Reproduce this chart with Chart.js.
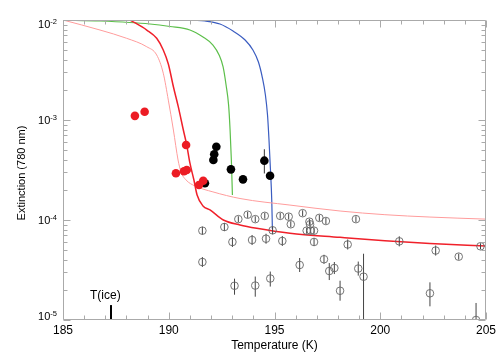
<!DOCTYPE html>
<html>
<head>
<meta charset="utf-8">
<script src="https://cdn.jsdelivr.net/npm/chart.js@4/dist/chart.umd.min.js"></script>
<style>
  html, body { margin: 0; padding: 0; background: #fff; }
  #wrap { width: 504px; height: 360px; }
</style>
</head>
<body>
<div id="wrap"><canvas id="chart" width="504" height="360"></canvas></div>
<script>
// axis ranges
var xMin = 185, xMax = 205;
var yMin = 1e-5, yMax = 1e-2;
var xTicks = [185, 190, 195, 200, 205];
var yDecades = [-5, -4, -3, -2];

// open circles (ice) with error bars
var iceT   = [191.59, 191.59, 192.63, 193.01, 193.11, 193.29, 193.73, 193.94, 194.09, 194.09,
              194.54, 194.60, 194.80, 194.91, 195.27, 195.37, 195.67, 195.77, 196.19, 196.33,
              196.52, 196.65, 196.68, 196.71, 196.87, 196.87, 197.12, 197.34, 197.43, 197.59,
              197.83, 198.10, 198.46, 198.85, 198.96, 199.21, 200.90, 202.35, 202.62, 203.71,
              204.53, 204.74];
var iceExt = [7.82e-5, 3.80e-5, 8.51e-5, 6.03e-5, 2.20e-5, 1.02e-4, 1.13e-4, 6.31e-5, 1.02e-4, 2.21e-5,
              1.10e-4, 6.50e-5, 2.60e-5, 7.89e-5, 1.10e-4, 6.17e-5, 1.08e-4, 9.06e-5, 3.55e-5, 1.17e-4,
              7.82e-5, 9.62e-5, 9.06e-5, 7.82e-5, 7.82e-5, 6.03e-5, 1.05e-4, 4.05e-5, 9.77e-5, 3.09e-5,
              3.31e-5, 1.96e-5, 5.69e-5, 1.02e-4, 3.27e-5, 2.71e-5, 6.12e-5, 1.85e-5, 4.95e-5, 4.30e-5,
              1.00e-5, 5.46e-5];
var iceLo  = [7.13e-5, 3.39e-5, 7.76e-5, 5.37e-5, 1.79e-5, 9.48e-5, 1.05e-4, 5.62e-5, 9.51e-5, 1.71e-5,
              1.03e-4, 5.79e-5, 2.16e-5, 7.20e-5, 1.03e-4, 5.50e-5, 1.01e-4, 8.45e-5, 3.02e-5, 1.09e-4,
              7.29e-5, 8.97e-5, 8.45e-5, 7.29e-5, 7.29e-5, 5.50e-5, 9.79e-5, 3.65e-5, 9.11e-5, 2.51e-5,
              2.88e-5, 1.56e-5, 5.07e-5, 9.51e-5, 2.78e-5, 7.00e-6, 5.45e-5, 1.37e-5, 4.41e-5, 4.01e-5,
              7.00e-6, 5.09e-5];
var iceHi  = [8.57e-5, 4.26e-5, 9.33e-5, 6.77e-5, 2.59e-5, 1.09e-4, 1.21e-4, 7.08e-5, 1.09e-4, 2.72e-5,
              1.18e-4, 7.29e-5, 3.05e-5, 8.65e-5, 1.18e-4, 6.92e-5, 1.16e-4, 9.71e-5, 4.17e-5, 1.25e-4,
              8.38e-5, 1.03e-4, 9.71e-5, 8.38e-5, 8.38e-5, 6.61e-5, 1.13e-4, 4.49e-5, 1.05e-4, 3.71e-5,
              3.80e-5, 2.47e-5, 6.38e-5, 1.09e-4, 3.84e-5, 4.60e-5, 6.87e-5, 2.38e-5, 5.55e-5, 4.61e-5,
              1.48e-5, 5.85e-5];

// filled black points
var blackT   = [192.25, 192.15, 192.11, 192.94, 193.51, 194.52, 194.79, 191.71];
var blackExt = [5.41e-4, 4.54e-4, 3.98e-4, 3.21e-4, 2.55e-4, 3.92e-4, 2.77e-4, 2.33e-4];
var blackErrT  = [194.52];
var blackErrLo = [2.92e-4];
var blackErrHi = [5.10e-4];

// filled red points
var redT   = [188.40, 188.86, 190.82, 190.34, 190.72, 190.85, 191.63, 191.43];
var redExt = [1.10e-3, 1.21e-3, 5.62e-4, 2.93e-4, 3.07e-4, 3.16e-4, 2.47e-4, 2.24e-4];

// model curves
var redCurveT   = [188.17, 188.96, 189.43, 189.74, 189.98, 190.22, 190.45, 190.69, 190.85, 191.00,
                   191.19, 191.34, 191.62, 191.95, 192.58, 193.37, 194.16, 195.73, 198.10, 200.22,
                   202.35, 205.0];
var redCurveExt = [1.0e-2, 7.94e-3, 6.56e-3, 5.01e-3, 3.63e-3, 2.15e-3, 1.36e-3, 7.94e-4, 5.62e-4, 3.72e-4,
                   2.51e-4, 1.78e-4, 1.38e-4, 1.26e-4, 1.0e-4, 8.91e-5, 8.25e-5, 7.36e-5, 6.71e-5, 6.21e-5,
                   5.82e-5, 5.50e-5];

var pinkCurveT   = [185.0, 186.75, 188.01, 188.96, 189.43, 189.74, 189.98, 190.22, 190.44, 190.58,
                    190.82, 191.24, 192.09, 193.37, 195.73, 198.10, 200.22, 202.35, 205.0];
var pinkCurveExt = [1.0e-2, 7.94e-3, 6.56e-3, 5.40e-3, 4.47e-3, 2.94e-3, 1.58e-3, 7.94e-4, 3.98e-4, 3.02e-4,
                    2.51e-4, 2.19e-4, 1.91e-4, 1.64e-4, 1.41e-4, 1.23e-4, 1.13e-4, 1.07e-4, 1.02e-4];

var greenCurveT   = [185.0, 186.75, 189.11, 190.06, 191.00, 191.62, 192.09, 192.38, 192.57, 192.71,
                     192.83, 192.90, 192.96, 193.01];
var greenCurveExt = [1.0e-2, 9.77e-3, 9.12e-3, 8.61e-3, 7.94e-3, 6.76e-3, 5.62e-3, 4.47e-3, 3.39e-3, 2.24e-3,
                     1.41e-3, 7.94e-4, 3.98e-4, 1.78e-4];

var blueCurveT   = [191.16, 191.71, 192.42, 193.04, 193.61, 193.98, 194.24, 194.43, 194.57, 194.67,
                    194.74, 194.81, 194.87, 194.90];
var blueCurveExt = [1.0e-2, 9.77e-3, 9.12e-3, 7.76e-3, 6.31e-3, 5.01e-3, 3.80e-3, 2.63e-3, 1.78e-3, 1.12e-3,
                    6.31e-4, 3.16e-4, 1.58e-4, 8.13e-5];

// ice frost point marker
var iceFrostT = 187.27;
var iceFrostTop = 1.41e-5;
var iceLabel = 'T(ice)';
var iceLabelT = 187.0;
var iceLabelExt = 1.62e-5;

var xTitle = 'Temperature (K)';
var yTitle = 'Extinction (780 nm)';

var FONT = '"Liberation Sans", Arial, Helvetica, sans-serif';

function pts(xs, ys) {
    return xs.map(function (v, i) { return { x: v, y: ys[i] }; });
}

function errPts(xs, lo, hi) {
    var out = [];
    xs.forEach(function (v, i) {
        out.push({ x: v, y: lo[i] });
        out.push({ x: v, y: hi[i] });
        out.push({ x: v, y: null });
    });
    return out;
}

function curve(xs, ys, color, width, order) {
    return {
        data: pts(xs, ys),
        showLine: true,
        borderColor: color,
        borderWidth: width,
        pointRadius: 0,
        cubicInterpolationMode: 'monotone',
        fill: false,
        order: order
    };
}

// axes, ticks and labels drawn with the chart scales
var framePlugin = {
    id: 'frame',
    afterDraw: function (chart) {
        var ctx = chart.ctx, a = chart.chartArea;
        var xs = chart.scales.x, ys = chart.scales.y;
        ctx.save();
        ctx.strokeStyle = '#aaaaaa';
        ctx.lineWidth = 1;
        var L = Math.round(a.left) + 0.5, R = Math.round(a.right) - 0.5;
        var T = Math.round(a.top) + 0.5, B = Math.round(a.bottom) - 0.5;
        ctx.beginPath();
        ctx.moveTo(L, T); ctx.lineTo(R, T); ctx.lineTo(R, B); ctx.lineTo(L, B); ctx.closePath();

        for (var t = xMin; t <= xMax; t++) {
            var px = Math.round(xs.getPixelForValue(t)) + 0.5;
            var len = (t % 5 === 0) ? 7 : 4;
            ctx.moveTo(px, B); ctx.lineTo(px, B - len);
            ctx.moveTo(px, T); ctx.lineTo(px, T + len);
        }
        for (var e = -5; e <= -2; e++) {
            for (var m = 1; m <= 9; m++) {
                var v = m * Math.pow(10, e);
                if (v > yMax * 1.0001) break;
                var py = Math.round(ys.getPixelForValue(v)) + 0.5;
                var l2 = (m === 1) ? 7 : 4;
                ctx.moveTo(L, py); ctx.lineTo(L + l2, py);
                ctx.moveTo(R, py); ctx.lineTo(R - l2, py);
            }
        }
        ctx.stroke();

        ctx.fillStyle = '#000';
        ctx.font = '12px ' + FONT;
        ctx.textAlign = 'center';
        ctx.textBaseline = 'alphabetic';
        xTicks.forEach(function (t) {
            ctx.fillText(String(t), xs.getPixelForValue(t), a.bottom + 13.5);
        });
        ctx.fillText(xTitle, (a.left + a.right) / 2, a.bottom + 29);

        yDecades.forEach(function (e) {
            var py = ys.getPixelForValue(Math.pow(10, e));
            var cy = Math.min(Math.max(py, a.top + 4.5), a.bottom - 3.5);
            var base = cy + 3.5;
            var xr = a.left - 12.7;
            ctx.font = '11px ' + FONT;
            ctx.textAlign = 'right';
            ctx.fillText('10', xr, base);
            ctx.font = '7.5px ' + FONT;
            ctx.textAlign = 'left';
            ctx.fillText(String(e), xr, base - 4);
        });

        ctx.save();
        ctx.translate(a.left - 38, (a.top + a.bottom) / 2 + 3);
        ctx.rotate(-Math.PI / 2);
        ctx.font = '11px ' + FONT;
        ctx.textAlign = 'center';
        ctx.fillText(yTitle, 0, 0);
        ctx.restore();

        ctx.font = '12px ' + FONT;
        ctx.textAlign = 'center';
        ctx.fillText(iceLabel, xs.getPixelForValue(iceLabelT), ys.getPixelForValue(iceLabelExt));
        ctx.restore();
    }
};

var datasets = [
    {
        data: pts(redT, redExt), showLine: false, pointRadius: 4.3, pointHoverRadius: 4.3,
        pointBackgroundColor: '#ec1c24', pointBorderColor: '#ec1c24', pointBorderWidth: 0, order: 0
    },
    {
        data: pts(blackT, blackExt), showLine: false, pointRadius: 4.3, pointHoverRadius: 4.3,
        pointBackgroundColor: '#000', pointBorderColor: '#000', pointBorderWidth: 0, order: 1
    },
    {
        data: errPts(blackErrT, blackErrLo, blackErrHi), showLine: true, spanGaps: false,
        borderColor: '#333', borderWidth: 1, pointRadius: 0, order: 2
    },
    {
        data: pts(iceT, iceExt), showLine: false, pointRadius: 3.8, pointHoverRadius: 3.8,
        pointBackgroundColor: 'rgba(0,0,0,0)', pointBorderColor: '#666', pointBorderWidth: 0.9, order: 3
    },
    {
        data: errPts(iceT, iceLo, iceHi), showLine: true, spanGaps: false,
        borderColor: '#444', borderWidth: 1, pointRadius: 0, order: 4
    },
    {
        data: [{ x: iceFrostT, y: yMin }, { x: iceFrostT, y: iceFrostTop }], showLine: true,
        borderColor: '#000', borderWidth: 2, pointRadius: 0, order: 5
    },
    curve(redCurveT, redCurveExt, '#f0202a', 1.5, 6),
    curve(pinkCurveT, pinkCurveExt, '#ff9c9c', 1, 7),
    curve(greenCurveT, greenCurveExt, '#5cbf4a', 1.2, 8),
    curve(blueCurveT, blueCurveExt, '#3a5cc0', 1.2, 9)
];

new Chart(document.getElementById('chart').getContext('2d'), {
    type: 'line',
    data: { datasets: datasets },
    options: {
        responsive: false,
        animation: false,
        devicePixelRatio: 1,
        layout: { padding: { left: 63, right: 18, top: 20, bottom: 40 } },
        plugins: { legend: { display: false }, tooltip: { enabled: false } },
        scales: {
            x: { type: 'linear', min: xMin, max: xMax, display: false },
            y: { type: 'logarithmic', min: yMin, max: yMax, display: false }
        }
    },
    plugins: [framePlugin]
});
</script>
</body>
</html>
